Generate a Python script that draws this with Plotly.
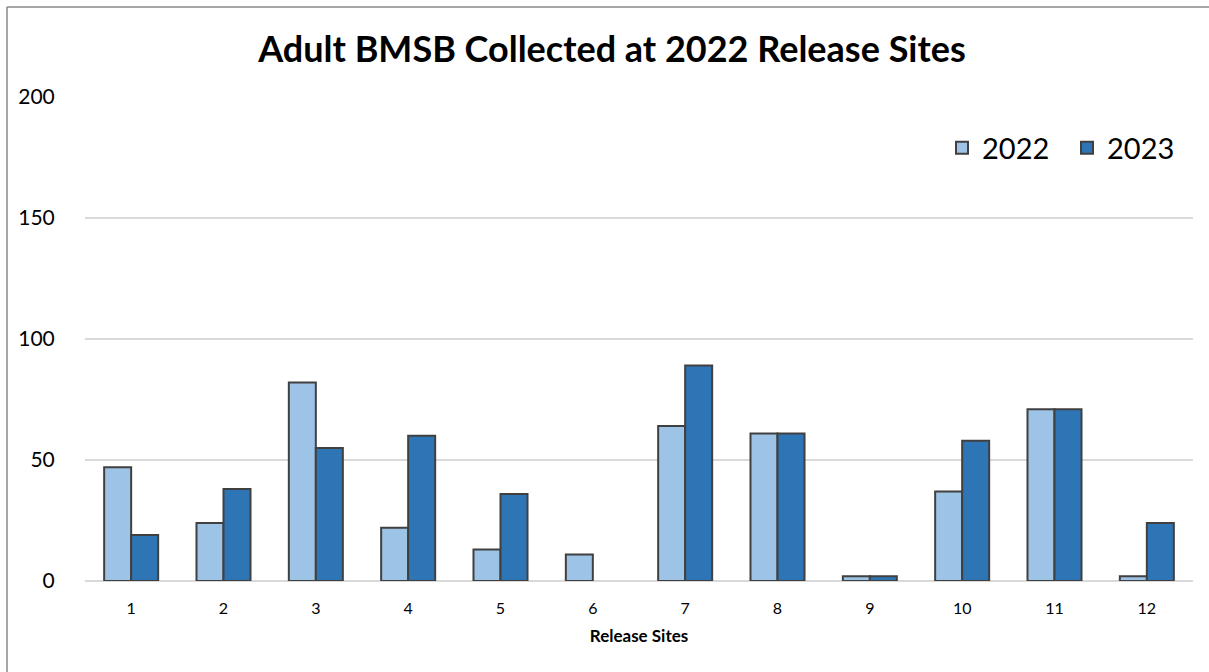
import plotly.graph_objects as go

sites = [str(i) for i in range(1, 13)]
y2022 = [47, 24, 82, 22, 13, 11, 64, 61, 2, 37, 71, 2]
y2023 = [19, 38, 55, 60, 36, 0, 89, 61, 2, 58, 71, 24]

FONT = "Lato"
W, H = 1209, 672
L, R, T, B = 85, 16, 97, 91
pw, ph = W - L - R, H - T - B


def outline(vals):
    return [2 if v > 0 else 0 for v in vals]


fig = go.Figure()
fig.add_bar(x=sites, y=y2022, name="2022",
            marker=dict(color="#9DC3E6", line=dict(color="#404040", width=outline(y2022))))
fig.add_bar(x=sites, y=y2023, name="2023",
            marker=dict(color="#2E75B6", line=dict(color="#404040", width=outline(y2023))))

fig.update_layout(
    width=W, height=H,
    margin=dict(l=L, r=R, t=T, b=B),
    paper_bgcolor="white", plot_bgcolor="white",
    barmode="group", bargap=0.415, bargroupgap=0,
    font=dict(family=FONT, color="#000000"),
    title=dict(text="<b>Adult BMSB Collected at 2022 Release Sites</b>", x=612 / W, xanchor="center",
               y=1 - 49 / H, yanchor="middle", font=dict(size=36, family=FONT, color="#000000")),
    legend=dict(orientation="h", x=(1192 - L) / pw, xanchor="right", y=(H - B - 148) / ph, yanchor="middle",
                font=dict(size=29, family=FONT), bgcolor="rgba(0,0,0,0)", traceorder="normal",
                itemwidth=30, entrywidth=80),
    xaxis=dict(title=dict(text="<b>Release Sites</b>", font=dict(size=17, family=FONT), standoff=13),
               tickfont=dict(size=16, family=FONT), showgrid=False, showline=False, ticks="outside",
               ticklen=13, tickcolor="rgba(0,0,0,0)"),
    yaxis=dict(range=[0, 200], dtick=50, tickfont=dict(size=21, family=FONT), showgrid=True,
               gridcolor="#D9D9D9", gridwidth=1.5, zeroline=True, zerolinecolor="#D9D9D9", zerolinewidth=1.5,
               ticks="outside", ticklen=25, tickcolor="rgba(0,0,0,0)", showline=False),
    shapes=[
        dict(type="line", xref="paper", yref="paper", x0=(7 - L) / pw, x1=(7 - L) / pw,
             y0=(H - B - 7) / ph, y1=-B / ph - 0.01, line=dict(color="#888888", width=1.5)),
        dict(type="line", xref="paper", yref="paper", x0=(7 - L) / pw, x1=(W - L) / pw + 0.01,
             y0=(H - B - 7) / ph, y1=(H - B - 7) / ph, line=dict(color="#888888", width=1.5)),
    ],
)

fig.write_html("out.html")
